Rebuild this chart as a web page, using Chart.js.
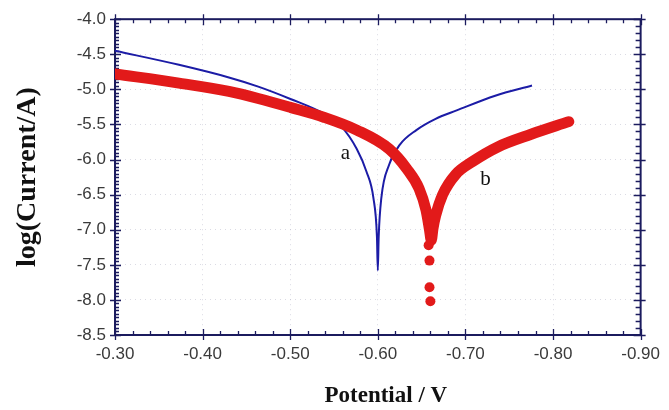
<!DOCTYPE html>
<html>
<head>
<meta charset="utf-8">
<script src="https://cdn.jsdelivr.net/npm/chart.js@4/dist/chart.umd.min.js"></script>
<style>
  html, body { margin: 0; padding: 0; background: #ffffff; }
  canvas { display: block; }
</style>
</head>
<body>
<canvas id="c" width="669" height="410"></canvas>
<script>
// ---- Data ----
// Curve a (blue)
const potentialA = [-0.300, -0.373, -0.430, -0.4635, -0.501, -0.539, -0.557, -0.576, -0.587, -0.595, -0.599, -0.600,
                    -0.601, -0.604, -0.613, -0.625, -0.644, -0.666, -0.690, -0.734, -0.776];
const logCurrentA = [-4.45, -4.65, -4.83, -4.96, -5.14, -5.35, -5.51, -5.85, -6.17, -6.55, -7.10, -7.58,
                     -7.10, -6.55, -6.07, -5.79, -5.58, -5.42, -5.30, -5.09, -4.945];
// Curve b (red, thick marker trace)
const potentialB = [-0.300, -0.373, -0.430, -0.4635, -0.501, -0.539, -0.576, -0.613, -0.633, -0.647, -0.655, -0.659, -0.661,
                    -0.663, -0.666, -0.674, -0.689, -0.708, -0.737, -0.775, -0.818];
const logCurrentB = [-4.78, -4.91, -5.03, -5.13, -5.26, -5.40, -5.58, -5.85, -6.13, -6.41, -6.72, -7.00, -7.15,
                     -6.98, -6.80, -6.50, -6.21, -6.03, -5.82, -5.64, -5.46];
// Isolated red markers at the bottom of curve b
const potentialBTail = [-0.658, -0.659, -0.659, -0.660];
const logCurrentBTail = [-7.22, -7.44, -7.82, -8.02];
// Axis ticks
const xTicks = [-0.30, -0.40, -0.50, -0.60, -0.70, -0.80, -0.90];
const yTicks = [-4.0, -4.5, -5.0, -5.5, -6.0, -6.5, -7.0, -7.5, -8.0, -8.5];
// Curve labels (text, potential, logCurrent)
const curveLabels = [["a", -0.563, -5.92], ["b", -0.723, -6.28]];
const xTitle = 'Potential / V';
const yTitle = 'log(Current/A)';

const toPts = (xs, ys) => xs.map((x, i) => ({ x: x, y: ys[i] }));

const NAVY = '#1b1b5e';
const BLUE = '#1c1ca6';
const RED = '#e21a1a';

const framePlugin = {
  id: 'framePlugin',
  beforeDatasetsDraw(chart) {
    const { ctx, chartArea: a, scales } = chart;
    const xs = scales.x, ys = scales.y;
    ctx.save();
    ctx.strokeStyle = NAVY;
    ctx.lineWidth = 2;
    ctx.strokeRect(a.left, a.top, a.right - a.left, a.bottom - a.top);
    ctx.lineWidth = 1.3;
    ctx.beginPath();
    for (let i = 0; i <= 30; i++) {
      const v = xTicks[0] - i * 0.02;
      const p = Math.round(xs.getPixelForValue(v)) + 0.5;
      const major = i % 5 === 0;
      ctx.moveTo(p, a.bottom + (major ? 5 : 0));
      ctx.lineTo(p, a.bottom - (major ? 6 : 4));
      ctx.moveTo(p, a.top - (major ? 5 : 0));
      ctx.lineTo(p, a.top + (major ? 6 : 4));
    }
    for (let i = 0; i <= 90; i++) {
      const v = yTicks[yTicks.length - 1] + i * 0.05;
      const p = Math.round(ys.getPixelForValue(v)) + 0.5;
      const major = i % 10 === 0;
      ctx.moveTo(a.left - (major ? 5 : 0), p);
      ctx.lineTo(a.left + (major ? 6 : 4), p);
      if (i % 2 === 0) {
        ctx.moveTo(a.right + (major ? 5 : 0), p);
        ctx.lineTo(a.right - (major ? 7 : 5), p);
      }
    }
    ctx.stroke();
    ctx.restore();
  },
  afterDatasetsDraw(chart) {
    const { ctx, scales, chartArea: a } = chart;
    ctx.save();
    ctx.fillStyle = '#111111';
    ctx.font = '21px "Liberation Serif", "DejaVu Serif", serif';
    ctx.textAlign = 'center';
    ctx.textBaseline = 'middle';
    curveLabels.forEach(([t, x, y]) => {
      ctx.fillText(t, scales.x.getPixelForValue(x), scales.y.getPixelForValue(y));
    });
    // x-axis title, slightly right of centre as in the original
    ctx.font = 'bold 23px "Liberation Serif", "Times New Roman", serif';
    ctx.textBaseline = 'alphabetic';
    ctx.fillText(xTitle, (a.left + a.right) / 2 + 8, chart.height - 8);
    ctx.restore();
  }
};

const GRID = 'rgba(175,175,195,0.45)';

new Chart(document.getElementById('c'), {
  type: 'line',
  data: {
    datasets: [
      {
        label: 'b',
        data: toPts(potentialB, logCurrentB),
        borderColor: RED,
        backgroundColor: RED,
        borderWidth: 11,
        pointRadius: 0,
        cubicInterpolationMode: 'monotone',
        borderCapStyle: 'round',
        borderJoinStyle: 'round',
        fill: false
      },
      {
        label: 'b markers',
        data: toPts(potentialBTail, logCurrentBTail),
        showLine: false,
        pointRadius: 5,
        pointBackgroundColor: RED,
        pointBorderWidth: 0,
        borderColor: RED
      },
      {
        label: 'a',
        data: toPts(potentialA, logCurrentA),
        borderColor: BLUE,
        borderWidth: 2,
        pointRadius: 0,
        cubicInterpolationMode: 'monotone',
        fill: false
      }
    ]
  },
  options: {
    responsive: false,
    animation: false,
    devicePixelRatio: 1,
    layout: { padding: { top: 16, right: 22, left: 0, bottom: 0 } },
    plugins: { legend: { display: false }, tooltip: { enabled: false } },
    scales: {
      x: {
        type: 'linear',
        reverse: true,
        min: -0.9,
        max: -0.3,
        afterBuildTicks: (s) => { s.ticks = xTicks.map(v => ({ value: v })); },
        afterFit: (s) => { s.height = 75; },
        ticks: {
          callback: (v) => Number(v).toFixed(2),
          color: '#3a3a3a',
          font: { family: '"Liberation Sans", Arial, sans-serif', size: 17 },
          padding: 9,
          maxRotation: 0
        },
        grid: { color: GRID, drawTicks: false, lineWidth: 1 },
        border: { display: false, dash: [1, 4] },
        title: { display: false }
      },
      y: {
        type: 'linear',
        min: -8.5,
        max: -4.0,
        afterBuildTicks: (s) => { s.ticks = yTicks.map(v => ({ value: v })); },
        afterFit: (s) => { s.width = 115; },
        ticks: {
          callback: (v) => Number(v).toFixed(1),
          color: '#3a3a3a',
          font: { family: '"Liberation Sans", Arial, sans-serif', size: 17 },
          padding: 9
        },
        grid: { color: GRID, drawTicks: false, lineWidth: 1 },
        border: { display: false, dash: [1, 4] },
        title: {
          display: true,
          text: yTitle,
          color: '#111111',
          font: { family: '"Liberation Serif", "Times New Roman", serif', size: 28, weight: 'bold' },
          padding: { top: 11, bottom: 0 }
        }
      }
    }
  },
  plugins: [framePlugin]
});
</script>
</body>
</html>
